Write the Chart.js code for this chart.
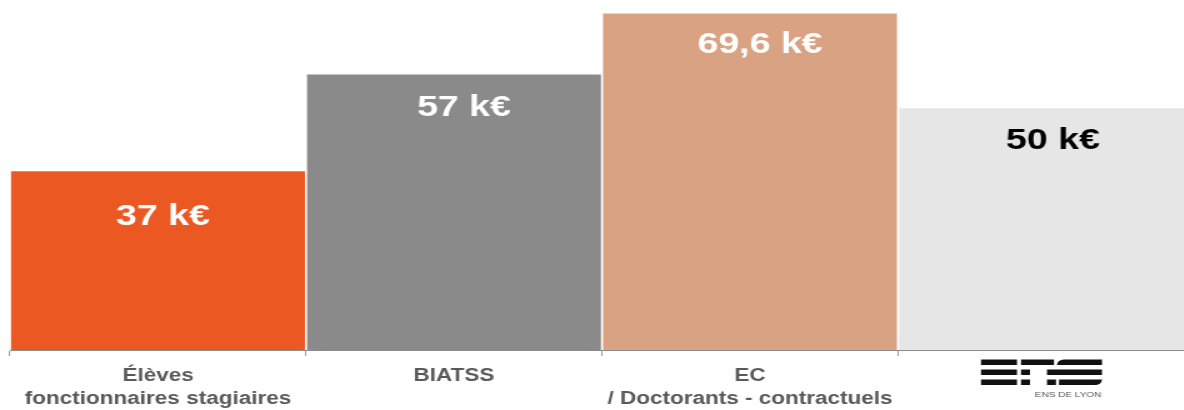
<!DOCTYPE html>
<html><head><meta charset="utf-8">
<script src="https://cdn.jsdelivr.net/npm/chart.js@4"></script>
<style>
html,body{margin:0;padding:0;background:#fff;overflow:hidden;width:1184px;height:410px;}
#wrap{position:absolute;left:0;top:0;width:960px;height:410px;transform:scaleX(1.25);transform-origin:0 0;}
</style></head><body>
<div id="wrap"><canvas id="c"></canvas></div>
<script>
// ---- data ----
const categories = [["Élèves", "fonctionnaires stagiaires"], "BIATSS", ["EC", "/ Doctorants - contractuels"], ""];
const values = [37, 57, 69.6, 50];
const unit = " k€";
const logoCaption = "ENS DE LYON";
// ---- styles ----
const barColors = ["#EC5822", "#8A8A8A", "#D9A283", "#E6E6E6"];
const labelColors = ["#FFFFFF", "#FFFFFF", "#FFFFFF", "#000000"];

const SX = 1.25; // horizontal stretch of the whole picture
const FONT = "'Liberation Sans', Arial, Helvetica, sans-serif";

const valueLabelPlugin = {
  id: 'valueLabels',
  afterDatasetsDraw(chart, args, opts) {
    const ctx = chart.ctx;
    const meta = chart.getDatasetMeta(0);
    ctx.save();
    ctx.font = "bold 30px " + FONT;
    ctx.textAlign = 'center';
    ctx.textBaseline = 'alphabetic';
    meta.data.forEach((bar, i) => {
      const txt = String(values[i]).replace('.', ',') + unit;
      ctx.fillStyle = labelColors[i];
      ctx.fillText(txt, bar.x + opts.dx[i] / SX, bar.y + opts.dy[i] + 10.7);
    });
    ctx.restore();
  }
};

const logoPlugin = {
  id: 'ensLogo',
  afterDraw(chart) {
    const ctx = chart.ctx;
    const xs = chart.scales.x;
    const cx = xs.getPixelForValue(3);
    const left = cx - 65 / SX;
    const top = 359.5;
    const rowH = 5.5;
    const rows = [
      [[0, 36], [40, 73], [76, 121, 'tl']],
      [[0, 36], [40, 49], [66, 121]],
      [[0, 36], [40, 49], [66, 75], [78, 121, 'br']]
    ];
    ctx.save();
    ctx.fillStyle = '#111111';
    rows.forEach((row, r) => {
      row.forEach(seg => {
        const x = left + seg[0] / SX;
        const w = (seg[1] - seg[0]) / SX;
        const y = top + r * 10;
        ctx.beginPath();
        let radii = 0;
        if (seg[2] === 'tl') radii = [rowH, 0, 0, 0];
        if (seg[2] === 'br') radii = [0, 0, rowH, 0];
        if (ctx.roundRect) ctx.roundRect(x, y, w, rowH, radii); else ctx.rect(x, y, w, rowH);
        ctx.fill();
      });
    });
    ctx.fillStyle = '#555555';
    ctx.font = "8px " + FONT;
    ctx.textAlign = 'center';
    ctx.textBaseline = 'middle';
    ctx.fillText(logoCaption, left + 87 / SX, 395);
    ctx.restore();
  }
};

new Chart(document.getElementById('c'), {
  type: 'bar',
  data: {
    labels: categories,
    datasets: [{
      data: values,
      backgroundColor: barColors,
      borderWidth: 0,
      barPercentage: 0.993,
      categoryPercentage: 1
    }]
  },
  options: {
    responsive: true,
    maintainAspectRatio: false,
    animation: false,
    events: [],
    layout: { padding: { left: 8, right: 4.8, top: 0, bottom: 0 } },
    plugins: {
      legend: { display: false },
      tooltip: { enabled: false },
      valueLabels: { dx: [5, 10, 10, 7], dy: [43, 31, 28.5, 30.5] }
    },
    scales: {
      x: {
        grid: { display: true, drawOnChartArea: false, drawTicks: true, tickLength: 6, color: '#9a9a9a', offset: true },
        border: { display: true, color: '#8c8c8c', width: 1 },
        ticks: {
          color: '#595959',
          font: { family: FONT, size: 18, weight: 'bold', lineHeight: 1.3 },
          padding: 8, maxRotation: 0, autoSkip: false
        },
        afterFit(s) { s.height = 60; }
      },
      y: { display: false, min: 0, max: 72.4 }
    }
  },
  plugins: [valueLabelPlugin, logoPlugin]
});
</script>
</body></html>
